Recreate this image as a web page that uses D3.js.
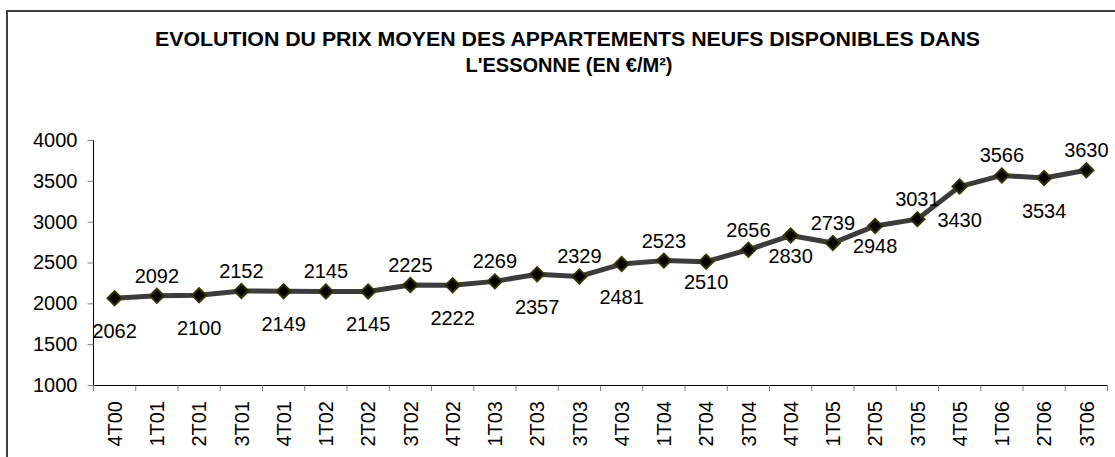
<!DOCTYPE html>
<html>
<head>
<meta charset="utf-8">
<script src="https://cdn.jsdelivr.net/npm/d3@7"></script>
<style>
  body { margin: 0; background: #fff; }
  svg { display: block; font-family: "Liberation Sans", Arial, sans-serif; }
</style>
</head>
<body>
<svg width="1115" height="457"></svg>
<script>
const quarters = ["4T00", "1T01", "2T01", "3T01", "4T01", "1T02", "2T02", "3T02", "4T02",
    "1T03", "2T03", "3T03", "4T03", "1T04", "2T04", "3T04", "4T04", "1T05", "2T05", "3T05",
    "4T05", "1T06", "2T06", "3T06"];
const prices = [2062, 2092, 2100, 2152, 2149, 2145, 2145, 2225, 2222, 2269, 2357, 2329,
    2481, 2523, 2510, 2656, 2830, 2739, 2948, 3031, 3430, 3566, 3534, 3630];
const yTicks = [1000, 1500, 2000, 2500, 3000, 3500, 4000];
const titleLines = ["EVOLUTION DU PRIX MOYEN DES APPARTEMENTS NEUFS DISPONIBLES DANS",
    "L'ESSONNE (EN €/M²)"];

const svg = d3.select("svg");

// chart frame (only top and left edges fall inside the picture)
svg.append("rect")
    .attr("x", 7).attr("y", 11)
    .attr("width", 1200).attr("height", 600)
    .attr("fill", "none")
    .attr("stroke", "#404040")
    .attr("stroke-width", 2);

const titleG = svg.append("g");
titleG.append("text")
    .attr("x", 567.5).attr("y", 46)
    .attr("text-anchor", "middle")
    .attr("font-size", 20)
    .attr("font-weight", "bold")
    .attr("textLength", 825)
    .attr("lengthAdjust", "spacingAndGlyphs")
    .text(titleLines[0]);
titleG.append("text")
    .attr("x", 569).attr("y", 72)
    .attr("text-anchor", "middle")
    .attr("font-size", 20)
    .attr("font-weight", "bold")
    .text(titleLines[1]);

const xScale = d3.scaleBand().domain(quarters).range([93.5, 1107.5]);
const yScale = d3.scaleLinear().domain([1000, 4000]).range([385, 140]);

const xAxisG = svg.append("g")
    .attr("transform", "translate(0,385)")
    .call(d3.axisBottom(xScale).tickSize(0).tickPadding(0));
xAxisG.select("path").attr("stroke", "#000").attr("d", "M93.5,0.5H1107.5");
xAxisG.selectAll(".tick text")
    .attr("font-size", 20)
    .attr("font-family", "Liberation Sans, Arial, sans-serif")
    .attr("fill", "#000")
    .attr("text-anchor", "end")
    .attr("transform", "rotate(-90)")
    .attr("x", -16)
    .attr("y", 0)
    .attr("dy", "0.36em");
// separators between categories
xAxisG.selectAll(".sep")
    .data(d3.range(quarters.length + 1))
    .enter()
    .append("line")
    .attr("x1", i => 93.5 + i * xScale.step())
    .attr("x2", i => 93.5 + i * xScale.step())
    .attr("y1", 0.5).attr("y2", 6)
    .attr("stroke", "#808080");

const yAxisG = svg.append("g")
    .attr("transform", "translate(93.5,0)")
    .call(d3.axisLeft(yScale).tickValues(yTicks).tickFormat(d3.format("d")).tickSize(6).tickPadding(10));
yAxisG.select("path").attr("stroke", "#000").attr("d", "M0,385.5V140");
yAxisG.selectAll("line").attr("stroke", "#808080");
yAxisG.selectAll("text")
    .attr("font-size", 20)
    .attr("font-family", "Liberation Sans, Arial, sans-serif")
    .attr("fill", "#000");

const cx = i => xScale(quarters[i]) + xScale.bandwidth() / 2;

const line = d3.line()
    .x((d, i) => cx(i))
    .y(d => yScale(d));

svg.append("path")
    .datum(prices)
    .attr("d", line)
    .attr("fill", "none")
    .attr("stroke", "#3c3c3c")
    .attr("stroke-width", 5)
    .attr("stroke-linejoin", "round");

svg.append("g").selectAll("path")
    .data(prices)
    .enter()
    .append("path")
    .attr("d", d3.symbol().type(d3.symbolSquare).size(100))
    .attr("transform", (d, i) => `translate(${cx(i)},${yScale(d)}) rotate(45)`)
    .attr("fill", "#000")
    .attr("stroke", "#333300")
    .attr("stroke-width", 2);

// labels alternate below / above; a few sit closer to the line
const closeBelow = new Set(["2T04", "4T04", "2T05"]);
svg.append("g").selectAll("text")
    .data(prices)
    .enter()
    .append("text")
    .attr("x", (d, i) => cx(i))
    .attr("y", (d, i) => {
        const py = yScale(d);
        if (i % 2 === 1) return py - 13;
        return py + (closeBelow.has(quarters[i]) ? 27 : 40);
    })
    .attr("text-anchor", "middle")
    .attr("font-size", 20)
    .text(d => d);
</script>
</body>
</html>
